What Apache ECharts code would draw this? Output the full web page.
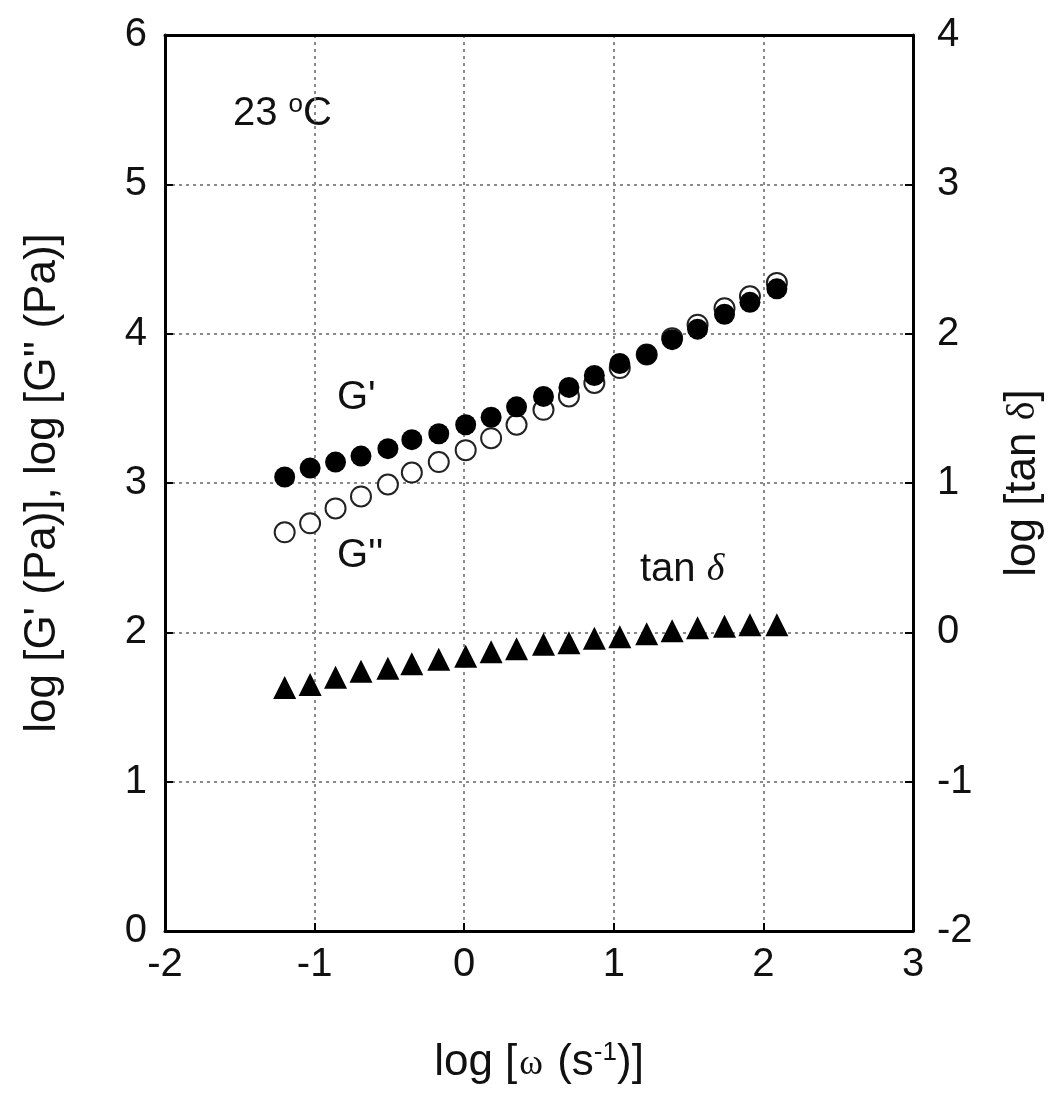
<!DOCTYPE html>
<html>
<head>
<meta charset="utf-8">
<script src="https://cdn.jsdelivr.net/npm/echarts@6/dist/echarts.min.js"></script>
<style>
  html, body { margin: 0; padding: 0; background: #fff; }
  #chart { width: 1063px; height: 1096px; }
</style>
</head>
<body>
<div id="chart"></div>
<script>
// log angular frequency (s^-1)
const logOmega = [-1.20, -1.03, -0.86, -0.69, -0.51, -0.35, -0.17, 0.01, 0.18, 0.35,
                  0.53, 0.70, 0.87, 1.04, 1.22, 1.39, 1.56, 1.74, 1.91, 2.09];
// storage modulus, log G' (Pa)
const logGp = [3.04, 3.10, 3.14, 3.18, 3.23, 3.29, 3.33, 3.39, 3.44, 3.51,
               3.58, 3.64, 3.72, 3.80, 3.86, 3.96, 4.03, 4.13, 4.21, 4.30];
// loss modulus, log G'' (Pa)
const logGpp = [2.67, 2.73, 2.83, 2.91, 2.99, 3.07, 3.14, 3.22, 3.30, 3.39,
                3.49, 3.58, 3.67, 3.77, 3.86, 3.97, 4.06, 4.17, 4.25, 4.34];
// loss tangent, log tan δ
const logTanD = [-0.37, -0.35, -0.30, -0.26, -0.24, -0.21, -0.18, -0.16, -0.13, -0.11,
                 -0.08, -0.07, -0.04, -0.03, -0.01, 0.01, 0.03, 0.04, 0.05, 0.05];

const xTicks = [-2, -1, 0, 1, 2, 3];
const yLeftTicks = [0, 1, 2, 3, 4, 5, 6];
const yRightTicks = [-2, -1, 0, 1, 2, 3, 4];

const FONT = 'Liberation Sans, Arial, sans-serif';
const SERIF = 'Liberation Serif, DejaVu Serif, serif';
const FS = 40;   // tick labels and annotations
const TS = 44;   // axis titles

const pairs = (xs, ys) => xs.map((x, i) => [x, ys[i]]);

const gridLine = { show: true, lineStyle: { color: '#8a8a8a', width: 2, type: [3, 4] } };
const frameLine = { show: true, onZero: false, lineStyle: { color: '#000', width: 3 } };
const inTick = { show: true, inside: true, length: 8, lineStyle: { color: '#000', width: 2 } };

const chart = echarts.init(document.getElementById('chart'), null, { renderer: 'canvas' });

chart.setOption({
  backgroundColor: '#fff',
  animation: false,
  textStyle: { fontFamily: FONT },
  grid: { left: 165, right: 150, top: 35, bottom: 165 },
  xAxis: [
    {
      type: 'value',
      position: 'bottom',
      min: xTicks[0], max: xTicks[xTicks.length - 1], interval: 1,
      axisLine: frameLine,
      axisTick: inTick,
      axisLabel: { color: '#111', fontSize: FS, fontFamily: FONT, margin: 14 },
      splitLine: gridLine,
      name: '{a|log [}{w|ω}{a| (s}{s|-1}{a|)]}',
      nameLocation: 'middle',
      nameGap: 104,
      nameTextStyle: {
        color: '#111', fontSize: TS, fontFamily: FONT,
        rich: {
          a: { fontSize: TS, fontFamily: FONT, color: '#111', lineHeight: 50, verticalAlign: 'bottom' },
          w: { fontSize: 36, fontFamily: SERIF, color: '#111', lineHeight: 50, verticalAlign: 'bottom', padding: [0, 2, 2, 2] },
          s: { fontSize: 26, fontFamily: FONT, color: '#111', lineHeight: 26, verticalAlign: 'top', padding: [5, 0, 0, 0] }
        }
      }
    },
    {
      // top frame edge
      type: 'value',
      position: 'top',
      min: xTicks[0], max: xTicks[xTicks.length - 1], interval: 1,
      axisLine: frameLine,
      axisTick: { show: false },
      axisLabel: { show: false },
      splitLine: { show: false }
    }
  ],
  yAxis: [
    {
      type: 'value',
      position: 'left',
      min: yLeftTicks[0], max: yLeftTicks[yLeftTicks.length - 1], interval: 1,
      axisLine: frameLine,
      axisTick: inTick,
      axisLabel: { color: '#111', fontSize: FS, fontFamily: FONT, margin: 18 },
      splitLine: gridLine,
      name: "log [G' (Pa)], log [G'' (Pa)]",
      nameLocation: 'middle',
      nameGap: 100,
      nameTextStyle: { color: '#111', fontSize: TS, fontFamily: FONT }
    },
    {
      type: 'value',
      position: 'right',
      min: yRightTicks[0], max: yRightTicks[yRightTicks.length - 1], interval: 1,
      axisLine: frameLine,
      axisTick: inTick,
      axisLabel: { color: '#111', fontSize: FS, fontFamily: FONT, margin: 24 },
      splitLine: { show: false },
      name: '{a|log [tan }{d|δ}{a|]}',
      nameLocation: 'middle',
      nameGap: 88,
      nameTextStyle: {
        color: '#111', fontSize: TS, fontFamily: FONT,
        rich: {
          a: { fontSize: TS, fontFamily: FONT, color: '#111' },
          d: { fontSize: 40, fontFamily: SERIF, color: '#111' }
        }
      }
    }
  ],
  series: [
    {
      name: "G''",
      type: 'scatter',
      yAxisIndex: 0,
      data: pairs(logOmega, logGpp),
      symbol: 'circle',
      symbolSize: 20,
      itemStyle: { color: '#fff', borderColor: '#222', borderWidth: 2, opacity: 1 },
      z: 3
    },
    {
      name: "G'",
      type: 'scatter',
      yAxisIndex: 0,
      data: pairs(logOmega, logGp),
      symbol: 'circle',
      symbolSize: 21,
      itemStyle: { color: '#000', opacity: 1 },
      z: 4
    },
    {
      name: 'tan δ',
      type: 'scatter',
      yAxisIndex: 1,
      data: pairs(logOmega, logTanD),
      symbol: 'triangle',
      symbolSize: 23,
      itemStyle: { color: '#000', opacity: 1 },
      z: 4
    }
  ],
  graphic: [
    {
      type: 'text', left: 233, top: 92,
      style: {
        text: '{a|23 }{o|o}{a|C}',
        fill: '#111',
        rich: {
          a: { fontSize: FS, fontFamily: FONT, fill: '#111', lineHeight: 42, verticalAlign: 'bottom' },
          o: { fontSize: 26, fontFamily: FONT, fill: '#111', lineHeight: 26, verticalAlign: 'top' }
        }
      }
    },
    { type: 'text', left: 337, top: 378, style: { text: "G'", font: FS + 'px ' + FONT, fill: '#111' } },
    { type: 'text', left: 337, top: 536, style: { text: "G''", font: FS + 'px ' + FONT, fill: '#111' } },
    {
      type: 'text', left: 640, top: 550,
      style: {
        text: '{a|tan }{d|δ}',
        fill: '#111',
        rich: {
          a: { fontSize: FS, fontFamily: FONT, fill: '#111' },
          d: { fontSize: 38, fontFamily: SERIF, fontStyle: 'italic', fill: '#111' }
        }
      }
    }
  ]
});
</script>
</body>
</html>
